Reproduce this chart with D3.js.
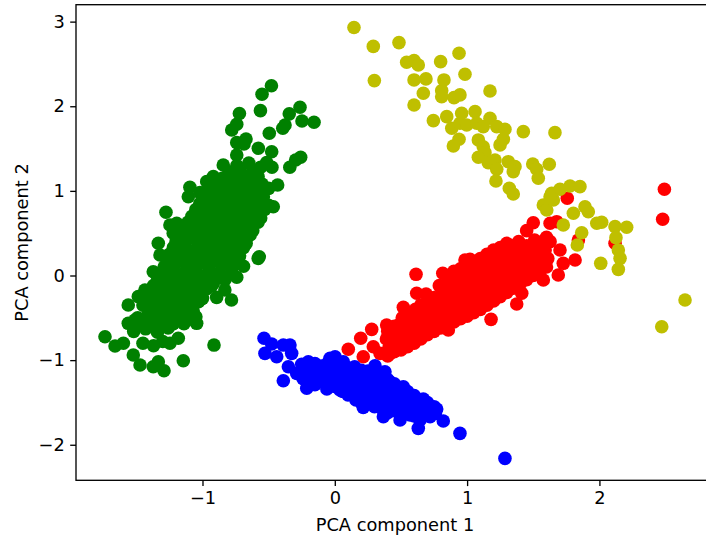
<!DOCTYPE html>
<html>
<head>
<meta charset="utf-8">
<script src="https://cdn.jsdelivr.net/npm/d3@7"></script>
<style>
  html, body { margin: 0; padding: 0; background: #fff; overflow: hidden; }
  svg { display: block; }
  text { font-family: "DejaVu Sans", sans-serif; }
</style>
</head>
<body>
<div id="chart"></div>
<script>
// ---------- data (PCA component 1, PCA component 2) ----------
const redPoints = [
  [2.491,1.019],[2.478,0.664],[1.757,0.913],[1.500,0.624],[1.450,0.530],[1.627,0.617],[1.677,0.636],
  [1.841,0.420],[2.118,0.381],[1.702,0.301],[1.816,0.183],[1.727,0.144],[1.689,0.006],[1.576,-0.053],
  [0.614,0.014],[0.816,0.026],[0.619,-0.210],[0.518,-0.376],[0.279,-0.636],[0.196,-0.742],[0.102,-0.872],
  [0.215,-0.960],[0.392,-0.585],[0.493,-0.573],[0.468,-0.742],[0.631,-0.703],[0.858,-0.644],[1.181,-0.518],
  [1.375,-0.337],[1.413,-0.210],[1.211,-0.270],[1.274,-0.210],[0.984,0.183],[1.022,0.191],[1.274,0.322],
  [1.387,0.340],[1.564,0.361],[1.627,0.400],[0.342,-0.920],[0.417,-0.920],[0.291,-0.842],
  [0.40,-0.95],[0.41,-0.85],[0.39,-0.75],[0.40,-0.66],
  [0.50,-0.88],[0.51,-0.78],[0.49,-0.68],[0.50,-0.58],[0.51,-0.50],
  [0.60,-0.80],[0.61,-0.70],[0.59,-0.60],[0.60,-0.50],[0.61,-0.40],
  [0.70,-0.70],[0.71,-0.60],[0.69,-0.50],[0.70,-0.40],[0.71,-0.30],[0.69,-0.22],
  [0.80,-0.62],[0.81,-0.52],[0.79,-0.42],[0.80,-0.32],[0.81,-0.22],[0.79,-0.12],
  [0.90,-0.55],[0.91,-0.45],[0.89,-0.35],[0.90,-0.25],[0.91,-0.15],[0.89,-0.05],[0.90,0.05],
  [1.00,-0.48],[1.01,-0.38],[0.99,-0.28],[1.00,-0.18],[1.01,-0.08],[0.99,0.02],[1.00,0.12],
  [1.10,-0.40],[1.11,-0.30],[1.09,-0.20],[1.10,-0.10],[1.11,0.00],[1.09,0.10],[1.10,0.20],
  [1.20,-0.30],[1.21,-0.20],[1.19,-0.10],[1.20,0.00],[1.21,0.10],[1.19,0.20],[1.20,0.30],
  [1.30,-0.20],[1.31,-0.10],[1.29,0.00],[1.30,0.10],[1.31,0.20],[1.29,0.30],[1.30,0.38],
  [1.40,-0.10],[1.41,0.00],[1.39,0.10],[1.40,0.20],[1.41,0.30],[1.39,0.40],
  [1.50,0.00],[1.51,0.10],[1.49,0.20],[1.50,0.30],[1.51,0.42],
  [1.60,0.10],[1.61,0.20],[1.59,0.30],[1.60,0.45],
  [0.45,-0.90],[0.45,-0.80],[0.45,-0.70],[0.45,-0.60],
  [0.55,-0.84],[0.55,-0.74],[0.55,-0.64],[0.55,-0.54],[0.55,-0.46],
  [0.65,-0.75],[0.65,-0.65],[0.65,-0.55],[0.65,-0.45],[0.65,-0.35],
  [0.75,-0.66],[0.75,-0.56],[0.75,-0.46],[0.75,-0.36],[0.75,-0.26],
  [0.85,-0.58],[0.85,-0.48],[0.85,-0.38],[0.85,-0.28],[0.85,-0.18],[0.85,-0.08],
  [0.95,-0.51],[0.95,-0.41],[0.95,-0.31],[0.95,-0.21],[0.95,-0.11],[0.95,-0.01],[0.95,0.08],
  [1.05,-0.44],[1.05,-0.34],[1.05,-0.24],[1.05,-0.14],[1.05,-0.04],[1.05,0.06],[1.05,0.16],
  [1.15,-0.35],[1.15,-0.25],[1.15,-0.15],[1.15,-0.05],[1.15,0.05],[1.15,0.15],[1.15,0.25],
  [1.25,-0.25],[1.25,-0.15],[1.25,-0.05],[1.25,0.05],[1.25,0.15],[1.25,0.25],[1.25,0.33],
  [1.35,-0.15],[1.35,-0.05],[1.35,0.05],[1.35,0.15],[1.35,0.25],[1.35,0.35],
  [1.45,-0.05],[1.45,0.05],[1.45,0.15],[1.45,0.25],[1.45,0.35],
  [1.55,0.05],[1.55,0.15],[1.55,0.25],[1.55,0.38]
];

const greenPoints = [
  [-0.479,2.243],[-0.550,2.142],[-0.562,1.948],[-0.721,1.915],[-0.263,1.988],[-0.344,1.910],[-0.248,1.826],
  [-0.157,1.811],[-0.376,1.779],[-0.393,1.740],[-0.741,1.787],[-0.779,1.720],[-0.495,1.681],[-0.741,1.570],
  [-0.671,1.613],[-0.686,1.554],[-0.578,1.504],[-0.477,1.463],[-0.258,1.397],[-0.296,1.365],[-0.340,1.279],
  [-0.475,1.279],[-0.515,1.334],[-0.741,1.424],[-0.843,1.306],[-0.432,1.070],[-0.968,1.109],[-0.918,1.168],
  [-1.095,1.043],[-1.107,0.931],[-1.019,0.979],[-1.276,0.747],[-1.195,0.617],[-0.465,0.813],[-0.603,0.636],
  [-1.737,-0.723],[-1.661,-0.833],[-1.598,-0.801],[-1.561,-0.565],[-1.510,-0.526],[-1.523,-0.940],
  [-1.472,-1.058],[-1.372,-1.078],[-1.334,-1.019],[-1.291,-1.125],[-1.145,-1.007],[-0.913,-0.822],
  [-1.044,-0.565],[-1.050,-0.487],[-1.246,-0.801],[-1.183,-0.742],[-1.561,-0.349],[-1.485,-0.250],
  [-1.435,-0.171],[-1.372,-0.290],[-1.359,-0.487],[-0.893,-0.258],[-0.831,-0.171],[-0.781,-0.290],
  [-1.019,-0.290],[-0.741,-0.021],[-0.571,0.222],[-0.579,0.202],[-0.818,0.144],[-1.372,0.045],
  [-1.321,0.242],[-1.334,0.381],[-1.246,0.597],[-1.221,0.499],[-0.641,0.617],[-0.590,0.636],
  [-0.691,0.400],[-0.767,0.281],[-0.943,0.026],[-0.918,-0.092],[-1.120,0.281],[-1.095,0.144],
  [-1.296,-0.132],[-1.271,-0.408],
  [-1.45,-0.80],[-1.37,-0.83],[-1.30,-0.78],
  [-1.52,-0.66],[-1.43,-0.63],[-1.34,-0.67],[-1.26,-0.62],
  [-1.49,-0.50],[-1.41,-0.47],[-1.34,-0.52],[-1.26,-0.49],[-1.18,-0.45],[-1.11,-0.52],
  [-1.45,-0.35],[-1.37,-0.32],[-1.29,-0.37],[-1.20,-0.33],[-1.12,-0.36],[-1.03,-0.31],
  [-1.40,-0.20],[-1.31,-0.17],[-1.22,-0.22],[-1.14,-0.18],[-1.05,-0.21],[-0.97,-0.16],
  [-1.34,-0.05],[-1.26,-0.02],[-1.18,-0.07],[-1.09,-0.03],[-1.00,-0.06],[-0.92,-0.01],[-0.83,-0.05],
  [-1.29,0.10],[-1.21,0.13],[-1.12,0.08],[-1.04,0.12],[-0.95,0.09],[-0.86,0.13],[-0.78,0.08],[-0.69,0.11],
  [-1.25,0.25],[-1.16,0.28],[-1.07,0.23],[-0.98,0.27],[-0.90,0.24],[-0.81,0.28],[-0.72,0.23],
  [-1.20,0.40],[-1.11,0.43],[-1.02,0.38],[-0.93,0.42],[-0.85,0.39],[-0.76,0.43],[-0.67,0.38],
  [-1.14,0.55],[-1.05,0.58],[-0.96,0.53],[-0.88,0.57],[-0.79,0.54],[-0.70,0.58],[-0.62,0.53],
  [-1.08,0.70],[-0.99,0.73],[-0.90,0.68],[-0.82,0.72],[-0.73,0.69],[-0.64,0.73],[-0.56,0.68],
  [-1.02,0.85],[-0.93,0.88],[-0.85,0.83],[-0.76,0.87],[-0.67,0.84],[-0.58,0.88],[-0.50,0.83],
  [-0.95,1.00],[-0.86,1.03],[-0.77,0.98],[-0.68,1.02],[-0.59,0.99],[-0.50,1.03],
  [-0.85,1.15],[-0.76,1.18],[-0.67,1.13],[-0.58,1.17],
  [-0.74,1.30],[-0.65,1.33],[-0.56,1.28],
  [-1.47,-0.57],[-1.38,-0.57],[-1.30,-0.57],[-1.22,-0.57],[-1.14,-0.57],
  [-1.41,-0.42],[-1.33,-0.42],[-1.24,-0.42],[-1.16,-0.42],[-1.07,-0.42],
  [-1.43,-0.27],[-1.35,-0.27],[-1.26,-0.27],[-1.18,-0.27],[-1.09,-0.27],[-1.00,-0.27],
  [-1.37,-0.12],[-1.28,-0.12],[-1.20,-0.12],[-1.11,-0.12],[-1.02,-0.12],[-0.93,-0.12],
  [-1.31,0.03],[-1.23,0.03],[-1.14,0.03],[-1.05,0.03],[-0.96,0.03],[-0.87,0.03],[-0.78,0.03],
  [-1.27,0.18],[-1.18,0.18],[-1.09,0.18],[-1.00,0.18],[-0.91,0.18],[-0.82,0.18],[-0.73,0.18],
  [-1.22,0.33],[-1.13,0.33],[-1.04,0.33],[-0.95,0.33],[-0.86,0.33],[-0.77,0.33],[-0.69,0.33],
  [-1.17,0.48],[-1.08,0.48],[-0.99,0.48],[-0.90,0.48],[-0.82,0.48],[-0.73,0.48],[-0.64,0.48],
  [-1.11,0.63],[-1.02,0.63],[-0.93,0.63],[-0.84,0.63],[-0.75,0.63],[-0.66,0.63],[-0.58,0.63],
  [-1.05,0.78],[-0.96,0.78],[-0.87,0.78],[-0.79,0.78],[-0.70,0.78],[-0.61,0.78],[-0.53,0.78],
  [-0.98,0.93],[-0.89,0.93],[-0.80,0.93],[-0.71,0.93],[-0.62,0.93],[-0.54,0.93],
  [-0.90,1.08],[-0.81,1.08],[-0.72,1.08],[-0.63,1.08],[-0.55,1.08],
  [-0.80,1.22],[-0.71,1.22],[-0.62,1.22]
];

const bluePoints = [
  [-0.535,-0.742],[-0.477,-0.810],[-0.528,-0.920],[-0.389,-0.822],[-0.339,-0.822],[-0.439,-0.960],
  [-0.326,-0.920],[-0.389,-1.244],[-0.351,-1.078],[-0.288,-1.156],[-0.200,-1.019],[-0.212,-1.333],
  [-0.036,-0.979],[0.002,-0.960],[0.064,-1.019],[0.304,-1.066],[0.379,-1.137],[0.417,-1.255],
  [0.518,-1.314],[0.669,-1.460],[0.770,-1.578],[0.820,-1.720],[0.946,-1.865],[1.286,-2.161],
  [0.215,-1.558],[0.367,-1.669],[0.493,-1.708],[0.631,-1.806],[0.644,-1.708],[0.568,-1.649],
  [0.720,-1.669],[-0.087,-1.235],[0.039,-1.353],
  [-0.25,-1.05],[-0.25,-1.14],[-0.24,-1.22],
  [-0.15,-1.04],[-0.16,-1.12],[-0.14,-1.21],[-0.15,-1.29],
  [-0.05,-1.03],[-0.06,-1.11],[-0.04,-1.19],[-0.05,-1.27],[-0.06,-1.34],
  [0.05,-1.05],[0.06,-1.13],[0.04,-1.21],[0.05,-1.29],[0.06,-1.37],
  [0.15,-1.08],[0.14,-1.16],[0.16,-1.24],[0.15,-1.32],[0.14,-1.40],[0.16,-1.47],
  [0.25,-1.13],[0.26,-1.21],[0.24,-1.29],[0.25,-1.37],[0.26,-1.45],[0.24,-1.52],
  [0.35,-1.18],[0.34,-1.26],[0.36,-1.34],[0.35,-1.42],[0.34,-1.50],[0.36,-1.58],
  [0.45,-1.28],[0.46,-1.36],[0.44,-1.44],[0.45,-1.52],[0.46,-1.60],
  [0.55,-1.37],[0.54,-1.45],[0.56,-1.53],[0.55,-1.61],
  [0.65,-1.50],[0.64,-1.58],[0.66,-1.65],
  [0.75,-1.55],[0.76,-1.63],
  [-0.20,-1.09],[-0.20,-1.18],
  [-0.10,-1.07],[-0.10,-1.16],[-0.10,-1.25],
  [0.00,-1.07],[0.00,-1.15],[0.00,-1.23],[0.00,-1.31],
  [0.10,-1.09],[0.10,-1.17],[0.10,-1.25],[0.10,-1.33],[0.10,-1.41],
  [0.20,-1.12],[0.20,-1.20],[0.20,-1.28],[0.20,-1.36],[0.20,-1.44],[0.20,-1.50],
  [0.30,-1.16],[0.30,-1.24],[0.30,-1.32],[0.30,-1.40],[0.30,-1.48],[0.30,-1.55],
  [0.40,-1.23],[0.40,-1.31],[0.40,-1.39],[0.40,-1.47],[0.40,-1.55],[0.40,-1.62],
  [0.50,-1.33],[0.50,-1.41],[0.50,-1.49],[0.50,-1.57],[0.50,-1.64],
  [0.60,-1.42],[0.60,-1.50],[0.60,-1.58],[0.60,-1.66],
  [0.70,-1.50],[0.70,-1.58],[0.70,-1.64]
];

const yellowPoints = [
  [0.145,2.931],[0.291,2.707],[0.485,2.752],[0.299,2.303],[0.543,2.520],[0.599,2.539],[0.631,2.488],
  [0.800,2.527],[0.939,2.626],[0.599,2.311],[0.689,2.323],[0.825,2.311],[0.984,2.378],[0.669,2.154],
  [0.808,2.184],[0.808,2.113],[0.901,2.102],[0.946,2.134],[1.173,2.181],[0.599,2.015],[0.745,1.830],
  [0.846,1.877],[0.884,1.740],[0.959,1.917],[0.946,1.799],[0.997,1.779],[1.060,1.936],[1.073,1.799],
  [1.173,1.858],[1.122,1.759],[1.224,1.759],[1.286,1.728],[1.425,1.700],[1.664,1.688],[0.939,1.610],
  [0.896,1.531],[1.085,1.602],[1.122,1.522],[1.135,1.452],[1.249,1.543],[1.274,1.610],[1.085,1.397],
  [1.160,1.333],[1.211,1.365],[1.311,1.345],[1.362,1.286],[1.349,1.227],[1.224,1.255],[1.218,1.117],
  [1.319,1.031],[1.349,0.963],[1.496,1.318],[1.526,1.255],[1.538,1.149],[1.621,1.314],[1.639,0.972],
  [1.702,1.019],[1.778,1.058],[1.853,1.050],[1.576,0.833],[1.602,0.774],[1.652,0.892],[1.627,0.931],
  [1.727,0.597],[1.803,0.735],[1.891,0.813],[1.916,0.754],[1.866,0.506],[1.833,0.361],[1.980,0.617],
  [2.017,0.629],[2.118,0.577],[2.125,0.447],[2.206,0.570],[2.143,0.301],[2.156,0.203],[2.143,0.073],
  [2.010,0.144],[2.471,-0.605],[2.647,-0.290]
];

const xTicks = [-1, 0, 1, 2];
const yTicks = [-2, -1, 0, 1, 2, 3];
const xLabel = "PCA component 1";
const yLabel = "PCA component 2";

const series = [
  { points: redPoints,    color: "#ff0000" },
  { points: greenPoints,  color: "#008000" },
  { points: bluePoints,   color: "#0000ff" },
  { points: yellowPoints, color: "#bfbf00" }
];

// ---------- layout ----------
const W = 706, H = 538;
// the axes box extends slightly past the right edge of the figure
const plot = { left: 76, right: 714, top: 4.7, bottom: 480.3 };
const fontSize = 17.8;

const x = d3.scaleLinear().domain([-1.956, 2.866]).range([plot.left, plot.right]);
const y = d3.scaleLinear().domain([-2.42, 3.20]).range([plot.bottom, plot.top]);

const svg = d3.select("#chart").append("svg")
  .attr("width", W).attr("height", H)
  .attr("viewBox", `0 0 ${W} ${H}`);

svg.append("defs").append("clipPath").attr("id", "clip")
  .append("rect")
  .attr("x", plot.left).attr("y", plot.top)
  .attr("width", plot.right - plot.left).attr("height", plot.bottom - plot.top);

const pts = svg.append("g").attr("clip-path", "url(#clip)");
series.forEach(s => {
  pts.append("g").selectAll("circle").data(s.points).join("circle")
    .attr("cx", d => x(d[0]))
    .attr("cy", d => y(d[1]))
    .attr("r", 6.8)
    .attr("fill", s.color);
});

// axes
const xAxis = svg.append("g")
  .attr("transform", `translate(0,${plot.bottom})`)
  .call(d3.axisBottom(x).tickValues(xTicks).tickSize(5.8).tickPadding(5).tickFormat(d3.format("d")));
const yAxis = svg.append("g")
  .attr("transform", `translate(${plot.left},0)`)
  .call(d3.axisLeft(y).tickValues(yTicks).tickSize(5.8).tickPadding(5.5).tickFormat(d3.format("d")));

[xAxis, yAxis].forEach(a => {
  a.select(".domain").remove();
  a.selectAll(".tick line").attr("stroke", "#000").attr("stroke-width", 1.33);
  a.selectAll(".tick text")
    .attr("fill", "#000")
    .style("font-family", '"DejaVu Sans", sans-serif')
    .style("font-size", fontSize + "px");
});

// frame (spines)
svg.append("rect")
  .attr("x", plot.left).attr("y", plot.top)
  .attr("width", plot.right - plot.left).attr("height", plot.bottom - plot.top)
  .attr("fill", "none").attr("stroke", "#000").attr("stroke-width", 1.33)
  .attr("stroke-linejoin", "miter").attr("stroke-linecap", "square");

// labels
svg.append("text")
  .attr("x", (plot.left + plot.right) / 2)
  .attr("y", 530.5)
  .attr("text-anchor", "middle")
  .style("font-size", fontSize + "px")
  .attr("fill", "#000")
  .text(xLabel);

svg.append("text")
  .attr("transform", `translate(27.5,${(plot.top + plot.bottom) / 2}) rotate(-90)`)
  .attr("text-anchor", "middle")
  .style("font-size", fontSize + "px")
  .attr("fill", "#000")
  .text(yLabel);
</script>
</body>
</html>
